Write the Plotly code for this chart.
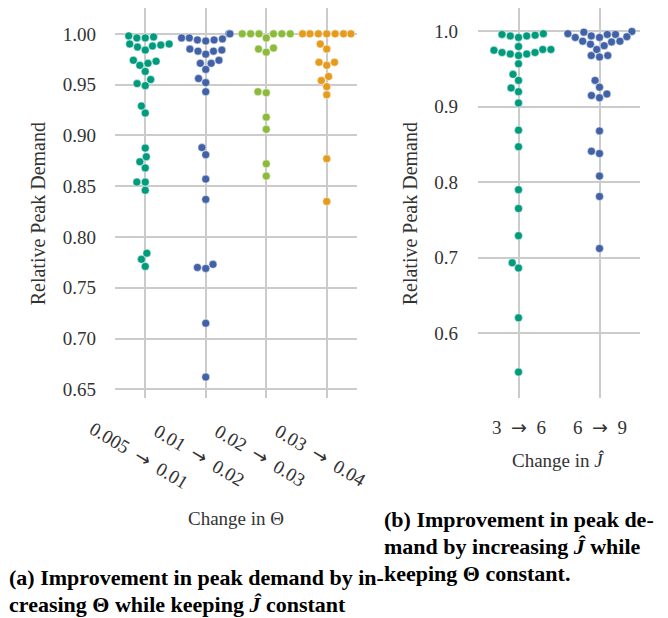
import numpy as np
import plotly.graph_objects as go

# ---------------------------------------------------------------- data
theta_labels = ["0.005 → 0.01", "0.01 → 0.02", "0.02 → 0.03", "0.03 → 0.04"]

theta_005_010 = [0.998, 0.997, 0.996, 0.996, 0.990, 0.990, 0.989, 0.988, 0.987, 0.984,
                 0.974, 0.973, 0.971, 0.969, 0.963, 0.955, 0.951, 0.949, 0.929, 0.922,
                 0.8875, 0.879, 0.874, 0.868, 0.854, 0.854, 0.846, 0.784, 0.778, 0.771]
theta_010_020 = [1.000, 1.000, 0.995, 0.994, 0.993, 0.994, 0.996, 0.996,
                 0.985, 0.983, 0.980, 0.983, 0.984, 0.971, 0.971, 0.974, 0.965,
                 0.956, 0.952, 0.943, 0.888, 0.881, 0.857, 0.837,
                 0.773, 0.770, 0.769, 0.715, 0.662]
theta_020_030 = [1.000, 1.000, 1.000, 1.000, 1.000, 1.000, 0.996,
                 0.985, 0.982, 0.986, 0.943, 0.942, 0.918, 0.906, 0.872, 0.860]
theta_030_040 = [1.000, 1.000, 1.000, 1.000, 1.000, 1.000, 1.000,
                 0.990, 0.985, 0.972, 0.969, 0.972, 0.958, 0.954, 0.948, 0.940,
                 0.877, 0.835]

j_labels = ["3 → 6", "6 → 9"]

j_3_6 = [0.996, 0.994, 0.992, 0.994, 0.995, 0.997,
         0.976, 0.972, 0.970, 0.968, 0.980, 0.970, 0.972, 0.975, 0.976,
         0.957, 0.943, 0.935, 0.925, 0.920, 0.905, 0.869, 0.847,
         0.790, 0.765, 0.729, 0.693, 0.686, 0.620, 0.548]
j_6_9 = [0.999, 0.992, 0.987, 1.000, 0.996, 0.983, 0.992, 0.976, 0.994, 0.981,
         0.986, 0.996, 0.987, 0.993, 0.997, 0.968, 0.966, 0.968,
         0.935, 0.926, 0.915, 0.912, 0.917, 0.868, 0.841, 0.838, 0.808, 0.781, 0.712]

theta_groups = [theta_005_010, theta_010_020, theta_020_030, theta_030_040]
j_groups = [j_3_6, j_6_9]

palette_a = ["#009B7D", "#4262A8", "#8CBA3B", "#E59B1E"]
palette_b = ["#009B7D", "#4262A8"]

# ---------------------------------------------------------------- layout geometry
W, H = 668, 618
XA = (115, 357)          # left panel, pixels
XB = (478, 640)          # right panel, pixels
YTOP, YBOT = 8, 399      # both panels, pixels
RANGE_A = [0.6417, 1.0255]
RANGE_B = [0.514, 1.0311]

MARKER_D = 8.0           # marker diameter in px

SERIF = "Liberation Serif"


def arrow_label(text):
    """Typeset 'a → b' with a long arrow and wide spacing, like a math-mode label."""
    return text.replace(" → ", "\u2002<span style=\"font-family:DejaVu Sans\">→</span>\u2002")


def swarm_offsets(values, px_per_unit, px_per_cat, radius, width=0.8):
    """Beeswarm layout: each point, lowest value first, is put at the
    position nearest the category centre that does not overlap earlier points."""
    vals = np.asarray(values, float)
    order = sorted(range(len(vals)), key=lambda i: vals[i])
    placed = []
    for i in order:
        y = vals[i] * px_per_unit
        neighbors = []
        for xj, yj in reversed(placed):
            if y - yj < 2 * radius:
                neighbors.append((xj, yj))
            else:
                break
        cands = [0.0]
        left_first = True
        for xj, yj in neighbors:
            dy = y - yj
            dx = np.sqrt(max(4 * radius ** 2 - dy ** 2, 0.0)) * 1.05
            cands.extend([xj - dx, xj + dx] if left_first else [xj + dx, xj - dx])
            left_first = not left_first
        cands = sorted(cands, key=abs)
        chosen = cands[0]
        if neighbors:
            for c in cands:
                if all((xj - c) ** 2 + (yj - y) ** 2 >= 4 * radius ** 2 - 1e-9
                       for xj, yj in neighbors):
                    chosen = c
                    break
        placed.append((chosen, y))
    xs = np.empty(len(vals))
    for k, i in enumerate(order):
        xs[i] = placed[k][0]
    lim = width / 2 * px_per_cat
    xs = np.clip(xs, -lim, lim)
    return xs / px_per_cat


fig = go.Figure()

plot_h = YBOT - YTOP
ppu_a = plot_h / (RANGE_A[1] - RANGE_A[0])
ppu_b = plot_h / (RANGE_B[1] - RANGE_B[0])
ppc_a = (XA[1] - XA[0]) / len(theta_groups)
ppc_b = (XB[1] - XB[0]) / len(j_groups)

for i, (vals, col) in enumerate(zip(theta_groups, palette_a)):
    off = swarm_offsets(vals, ppu_a, ppc_a, MARKER_D / 2)
    fig.add_trace(go.Scatter(
        x=i + off, y=vals, mode="markers", xaxis="x", yaxis="y",
        marker=dict(size=MARKER_D, color=col, line=dict(width=0.5, color="white")),
        showlegend=False, hoverinfo="y"))

for i, (vals, col) in enumerate(zip(j_groups, palette_b)):
    off = swarm_offsets(vals, ppu_b, ppc_b, MARKER_D / 2)
    fig.add_trace(go.Scatter(
        x=i + off, y=vals, mode="markers", xaxis="x2", yaxis="y2",
        marker=dict(size=MARKER_D, color=col, line=dict(width=0.5, color="white")),
        showlegend=False, hoverinfo="y"))

GRID = "#CBCBCB"
TICKFONT = dict(family=SERIF, size=19, color="#333333")
ydom = [1 - YBOT / H, 1 - YTOP / H]

axis_common = dict(showgrid=True, gridcolor=GRID, gridwidth=2, zeroline=False,
                   showline=False, ticks="")

fig.update_layout(
    width=W, height=H,
    margin=dict(l=0, r=0, t=0, b=0),
    paper_bgcolor="white", plot_bgcolor="white",
    font=dict(family=SERIF),
    xaxis=dict(domain=[XA[0] / W, XA[1] / W], range=[-0.5, len(theta_groups) - 0.5],
               tickvals=list(range(len(theta_groups))), showticklabels=False,
               anchor="y", **axis_common),
    yaxis=dict(domain=ydom, range=RANGE_A,
               tickvals=[0.65, 0.70, 0.75, 0.80, 0.85, 0.90, 0.95, 1.00],
               tickformat=".2f", tickfont=TICKFONT, ticklabelstandoff=18,
               anchor="x", **axis_common),
    xaxis2=dict(domain=[XB[0] / W, XB[1] / W], range=[-0.5, len(j_groups) - 0.5],
                tickvals=list(range(len(j_groups))), showticklabels=False,
                anchor="y2", **axis_common),
    yaxis2=dict(domain=ydom, range=RANGE_B,
                tickvals=[0.6, 0.7, 0.8, 0.9, 1.0],
                tickformat=".1f", tickfont=TICKFONT, ticklabelstandoff=19,
                anchor="x2", **axis_common),
)

ann = []
# rotated category labels, left panel
for i, lab in enumerate(theta_labels):
    ann.append(dict(text=arrow_label(lab), x=i, xref="x", y=1 - 456 / H, yref="paper",
                    xshift=-6, textangle=31, showarrow=False,
                    xanchor="center", yanchor="middle", font=TICKFONT))
# category labels, right panel
for i, lab in enumerate(j_labels):
    ann.append(dict(text=arrow_label(lab), x=i, xref="x2", y=1 - 428 / H, yref="paper",
                    showarrow=False, xanchor="center", yanchor="middle", font=TICKFONT))

TITLEFONT = dict(family=SERIF, size=19, color="#333333")
YTITLEFONT = dict(family=SERIF, size=20, color="#333333")
ann += [
    dict(text="Change in Θ", x=236 / W, y=1 - 520 / H, xref="paper", yref="paper",
         showarrow=False, xanchor="center", yanchor="middle", font=TITLEFONT),
    dict(text="Change in <i>Ĵ</i>", x=558 / W, y=1 - 462 / H, xref="paper", yref="paper",
         showarrow=False, xanchor="center", yanchor="middle", font=TITLEFONT),
    dict(text="Relative Peak Demand", x=38 / W, y=1 - 215 / H, xref="paper", yref="paper",
         textangle=-90, showarrow=False, xanchor="center", yanchor="middle", font=YTITLEFONT),
    dict(text="Relative Peak Demand", x=410 / W, y=1 - 215 / H, xref="paper", yref="paper",
         textangle=-90, showarrow=False, xanchor="center", yanchor="middle", font=YTITLEFONT),
]

CAPFONT = dict(family=SERIF, size=22, color="#000000")
captions = [
    ("<b>(b) Improvement in peak de-</b>", 382, 521),
    ("<b>mand by increasing <i>Ĵ</i> while</b>", 382, 548),
    ("<b>keeping Θ constant.</b>", 382, 575),
    ("<b>(a) Improvement in peak demand by in-</b>", 7, 579),
    ("<b>creasing Θ while keeping <i>Ĵ</i> constant</b>", 7, 606),
]
for txt, px, py in captions:
    ann.append(dict(text=txt, x=px / W, y=1 - py / H, xref="paper", yref="paper",
                    showarrow=False, xanchor="left", yanchor="middle", font=CAPFONT))

fig.update_layout(annotations=ann)
fig.write_html("out.html")
